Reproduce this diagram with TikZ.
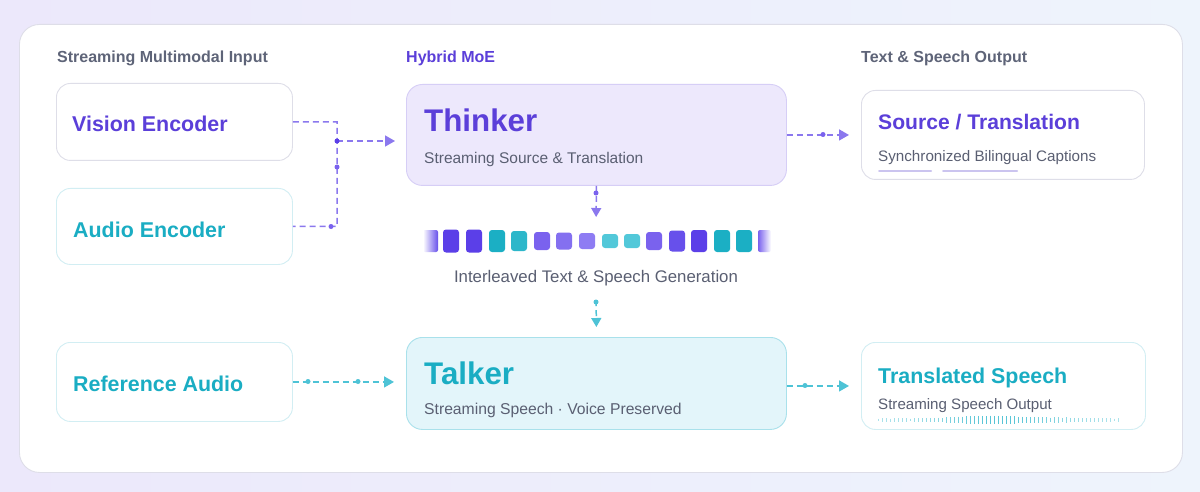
\documentclass[tikz,border=0pt]{standalone}
\usepackage{fontspec}
\setmainfont{Liberation Sans}
\usetikzlibrary{arrows.meta,calc}
\definecolor{bgA}{HTML}{ECE8FB}
\definecolor{bgB}{HTML}{EEF4FC}
\definecolor{pur}{HTML}{5B3FD9}
\definecolor{tea}{HTML}{1AADC3}
\definecolor{hdr}{HTML}{5E6478}
\definecolor{subc}{HTML}{5A5F72}
\definecolor{pline}{HTML}{8B78EE}
\definecolor{tline}{HTML}{4EC3D6}
\definecolor{grayb}{HTML}{DEDEE8}
\definecolor{teab}{HTML}{D2EEF3}
\definecolor{thinkfill}{HTML}{EDE8FC}
\definecolor{thinkb}{HTML}{D6CEF6}
\definecolor{talkfill}{HTML}{E3F5FA}
\definecolor{talkb}{HTML}{A9E1EB}
\definecolor{capl}{HTML}{CBC4EF}
\definecolor{wave}{HTML}{4FC2D4}
\definecolor{tkA}{HTML}{5B3FE8}
\definecolor{tkB}{HTML}{6750EB}
\definecolor{tkC}{HTML}{7A62EE}
\definecolor{tkD}{HTML}{8470F0}
\definecolor{tkE}{HTML}{8E7CF3}
\definecolor{tkF}{HTML}{1BAFC4}
\definecolor{tkG}{HTML}{2DB7CA}
\definecolor{tkH}{HTML}{52C8D9}
\tikzset{
  card/.style={draw=#1, fill=white, rounded corners=14pt, line width=0.9pt, anchor=north west, inner sep=0pt},
  bigcard/.style={rounded corners=16pt, line width=0.9pt, anchor=north west, inner sep=0pt},
  hdrtext/.style={anchor=base west, inner sep=0pt, text=hdr, font=\fontsize{16}{19}\selectfont\bfseries},
  titletext/.style={anchor=base west, inner sep=0pt, text=#1, font=\fontsize{21.4}{25}\selectfont\bfseries},
  hugetext/.style={anchor=base west, inner sep=0pt, text=#1, font=\fontsize{31.3}{36}\selectfont\bfseries},
  subtext/.style={anchor=base west, inner sep=0pt, text=subc, font=\fontsize{15.5}{18}\selectfont},
  plink/.style={draw=pline, line width=1.5pt, dash pattern=on 6pt off 4pt},
  tlink/.style={draw=tline, line width=1.5pt, dash pattern=on 6pt off 4pt},
  parrow/.style={plink, -{Triangle[length=10pt,width=11pt,fill=pline]}},
  tarrow/.style={tlink, -{Triangle[length=10pt,width=11pt,fill=tline]}},
  pdot/.style={fill=#1, circle, inner sep=0pt, minimum size=5pt},
}
\begin{document}
\begin{tikzpicture}[x=1pt,y=-1pt]
\useasboundingbox (0,0) rectangle (1200,492);
\shade[left color=bgA, right color=bgB] (0,0) rectangle (1200,492);
% panel
\node[draw=grayb, fill=white, rounded corners=20pt, line width=0.9pt, anchor=north west, inner sep=0pt,
      minimum width=1163pt, minimum height=448pt] (panel) at (19,24) {};
% headers
\node[hdrtext] (h1) at (57,62.5) {Streaming Multimodal Input};
\node[hdrtext, text=pur] (h2) at (406,62.5) {Hybrid MoE};
\node[hdrtext] (h3) at (861,62.5) {Text \& Speech Output};
% left cards
\node[card=grayb, minimum width=236pt, minimum height=77pt] (vision) at (56,83) {};
\node[titletext=pur] (visiont) at (72,132) {Vision Encoder};
\node[card=teab, minimum width=236pt, minimum height=76pt] (audio) at (56,188) {};
\node[titletext=tea] (audiot) at (73,237) {Audio Encoder};
\node[card=teab, minimum width=236pt, minimum height=79pt] (refa) at (56,342) {};
\node[titletext=tea] (refat) at (73,391.5) {Reference Audio};
% thinker / talker
\node[bigcard, draw=thinkb, fill=thinkfill, minimum width=380pt, minimum height=101pt] (thinker) at (406,84) {};
\node[hugetext=pur] (thinkert) at (424,132) {Thinker};
\node[subtext] (thinkers) at (424,163.5) {Streaming Source \& Translation};
\node[bigcard, draw=talkb, fill=talkfill, minimum width=380pt, minimum height=92pt] (talker) at (406,337) {};
\node[hugetext=tea] (talkert) at (424,384) {Talker};
\node[subtext, font=\fontsize{15.7}{18}\selectfont] (talkers) at (424,414.5) {Streaming Speech · Voice Preserved};
% right cards
\node[card=grayb, minimum width=283pt, minimum height=89pt] (srcbox) at (861,90) {};
\node[titletext=pur, font=\fontsize{21.1}{25}\selectfont\bfseries] (srct) at (878,129.5) {Source / Translation};
\node[subtext, font=\fontsize{15.2}{18}\selectfont] (srcs) at (878,161.5) {Synchronized Bilingual Captions};
\draw[capl, line width=2pt, line cap=round] (879,171) -- (931,171) (943,171) -- (1017,171);
\node[card=teab, minimum width=284pt, minimum height=87pt] (speechbox) at (861,342) {};
\node[titletext=tea] (speecht) at (878,383) {Translated Speech};
\node[subtext, font=\fontsize{15.1}{18}\selectfont] (speechs) at (878,409.5) {Streaming Speech Output};
% waveform
\foreach \i in {0,...,60} {
  \pgfmathsetmacro\xx{878+4*\i}
  \pgfmathsetmacro\hh{2.6+5.2*exp(-((\i-28)*(\i-28))/130)+1.0*abs(sin(\i*67))+1.4*exp(-((\i-45)*(\i-45))/30)}
  \pgfmathsetmacro\cc{45+50*exp(-((\i-30)*(\i-30))/300)}
  \draw[wave!\cc!white, line width=0.9pt] (\xx,420-\hh/2) -- (\xx,420+\hh/2);
}
% token strip
\shade[left color=white, right color=tkB, rounded corners=2pt] (423,230) rectangle (438,252);
\shade[left color=tkC, right color=white, rounded corners=2pt] (758,230) rectangle (771,252);
\foreach \x/\h/\c in {443/23/tkA,466/23/tkA,489/22/tkF,511/20/tkG,534/18/tkC,556/17/tkD,579/16/tkE,602/14/tkH,624/14/tkH,646/18/tkC,669/21/tkB,691/22/tkA,714/22/tkF,736/22/tkF} {
  \fill[\c, rounded corners=3pt] (\x,241-\h/2) rectangle (\x+16,241+\h/2);
}
\coordinate (strip) at (596,229);
\node[inner sep=0pt, text=subc, font=\fontsize{16.8}{19}\selectfont] (gen) at (596,278) {Interleaved Text \& Speech Generation};
% connectors: inputs to thinker
\coordinate (j1) at (337,122);
\coordinate (j2) at (337,141);
\coordinate (j3) at (337,226.5);
\draw[plink] (vision.east|-j1) -- (j1) -- (j3) -- (audio.east);
\draw[parrow, shorten >=11pt] (j2) -- (thinker.west|-j2);
\node[pdot=tkA] (d1) at (j2) {};
\node[pdot=tkC] (d2) at (337,167) {};
\node[pdot=tkC] (d3) at (331,226.5) {};
% thinker to source
\draw[parrow, shorten >=12pt] (thinker.east) -- (srcbox.west);
\node[pdot=tkC] (d4) at (823,134.5) {};
% thinker to strip
\draw[parrow, shorten >=12pt, -{Triangle[length=9pt,width=10pt,fill=pline]}] (thinker.south) -- (strip);
\node[pdot=tkC] (d5) at (596,193) {};
% gen to talker
\draw[tarrow, shorten <=14pt, shorten >=10pt, -{Triangle[length=9pt,width=10pt,fill=tline]}] (gen.south) -- (talker.north);
\node[pdot=tline] (d6) at (596,302) {};
% reference audio to talker
\draw[tarrow, shorten >=12pt] (refa.east) -- (talker.west|-refa.east);
\node[pdot=tline] (d7) at (308,381.5) {};
\node[pdot=tline] (d8) at (358,381.5) {};
% talker to translated speech
\draw[tarrow, shorten >=12pt] (talker.east|-speechbox.west) -- (speechbox.west);
\node[pdot=tline] (d9) at (805,385.5) {};
\end{tikzpicture}
\end{document}
